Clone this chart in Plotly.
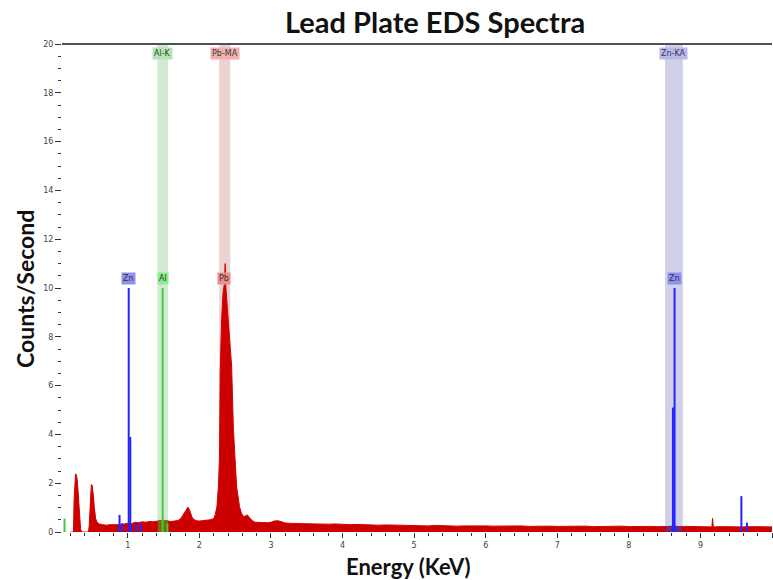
import plotly.graph_objects as go

# EDS spectrum of the lead plate sample: energy (keV) vs counts/second
energy_kev = [
    0.20, 0.24, 0.25, 0.26, 0.27, 0.28, 0.29, 0.30, 0.31, 0.32, 0.33, 0.34, 0.36,
    0.45, 0.46, 0.47, 0.48, 0.49, 0.50, 0.51, 0.52, 0.53, 0.54, 0.55, 0.57, 0.60,
    0.65, 0.70, 0.75, 0.80, 0.85, 0.90, 0.95, 1.00, 1.05, 1.10, 1.15, 1.20, 1.25,
    1.30, 1.35, 1.40, 1.42, 1.44, 1.46, 1.48, 1.50, 1.52, 1.54, 1.56, 1.60, 1.65,
    1.70, 1.74, 1.77, 1.80, 1.82, 1.84, 1.86, 1.88, 1.90, 1.93, 1.96, 2.00, 2.05,
    2.10, 2.15, 2.20, 2.22, 2.245, 2.265, 2.28, 2.29, 2.31, 2.33, 2.35, 2.36, 2.37,
    2.39, 2.41, 2.43, 2.45, 2.475, 2.50, 2.52, 2.56, 2.59, 2.62, 2.65, 2.67, 2.70,
    2.74, 2.78, 2.85, 2.90, 2.95, 3.00, 3.05, 3.10, 3.15, 3.20, 3.30, 3.40, 3.50,
    3.60, 3.70, 3.80, 3.90, 4.00, 4.10, 4.20, 4.30, 4.40, 4.50, 4.60, 4.70, 4.80,
    4.90, 5.00, 5.10, 5.20, 5.30, 5.40, 5.50, 5.60, 5.70, 5.80, 5.90, 6.00, 6.10,
    6.20, 6.30, 6.40, 6.50, 6.60, 6.70, 6.80, 6.90, 7.00, 7.10, 7.20, 7.30, 7.40,
    7.50, 7.60, 7.70, 7.80, 7.90, 8.00, 8.10, 8.20, 8.30, 8.40, 8.50, 8.52, 8.54,
    8.56, 8.58, 8.60, 8.62, 8.64, 8.66, 8.68, 8.70, 8.72, 8.74, 8.76, 8.80, 8.90,
    9.00, 9.10, 9.16, 9.17, 9.18, 9.30, 9.40, 9.50, 9.60, 9.70, 9.80, 9.90, 10.00,
]
counts_per_sec = [
    0.00, 0.00, 1.40, 2.25, 2.38, 2.34, 2.20, 1.85, 1.30, 0.70, 0.30, 0.10, 0.00,
    0.00, 0.25, 1.10, 1.75, 1.95, 1.92, 1.75, 1.45, 1.05, 0.75, 0.55, 0.40, 0.33,
    0.30, 0.28, 0.30, 0.29, 0.31, 0.30, 0.33, 0.36, 0.34, 0.40, 0.38, 0.42, 0.40,
    0.43, 0.42, 0.44, 0.45, 0.48, 0.46, 0.47, 0.45, 0.48, 0.46, 0.44, 0.43, 0.45,
    0.47, 0.55, 0.70, 0.88, 0.98, 1.02, 0.92, 0.72, 0.58, 0.50, 0.46, 0.45, 0.47,
    0.46, 0.50, 0.55, 0.70, 1.04, 1.86, 3.00, 6.50, 8.70, 9.80, 10.20, 11.00, 10.00,
    9.20, 8.20, 7.80, 6.80, 4.20, 2.70, 1.86, 1.04, 0.75, 0.62, 0.68, 0.70, 0.58,
    0.46, 0.40, 0.38, 0.37, 0.38, 0.40, 0.45, 0.46, 0.42, 0.37, 0.35, 0.34, 0.35,
    0.33, 0.34, 0.32, 0.33, 0.31, 0.30, 0.31, 0.29, 0.30, 0.28, 0.29, 0.27, 0.28,
    0.27, 0.26, 0.27, 0.25, 0.27, 0.25, 0.26, 0.24, 0.25, 0.26, 0.24, 0.25, 0.24,
    0.25, 0.23, 0.24, 0.25, 0.23, 0.24, 0.23, 0.24, 0.23, 0.24, 0.22, 0.23, 0.24,
    0.22, 0.23, 0.22, 0.23, 0.24, 0.22, 0.23, 0.22, 0.23, 0.22, 0.23, 0.22, 0.23,
    0.22, 0.24, 0.23, 0.24, 0.23, 0.22, 0.23, 0.22, 0.23, 0.22, 0.22, 0.23, 0.22,
    0.21, 0.22, 0.21, 0.56, 0.21, 0.22, 0.21, 0.22, 0.21, 0.22, 0.21, 0.22, 0.21,
]

# Element identification windows (label, centre keV, half width keV)
band_labels = ["Al-K", "Pb-MA", "Zn-KA"]
band_centers = [1.487, 2.353, 8.630]
band_half_widths = [0.073, 0.077, 0.124]
band_fill = ["#d3e9d3", "#ead3d3", "#d0d0e8"]
band_tag_bg = ["#b4e6b4", "#f0b0b0", "#b8b8ee"]
band_overlay = ["#7a6a10", None, "#6a2a7a"]

# Element marker lines (keV, height in counts/s, colour group)
marker_kev = [0.115, 0.884, 0.918, 1.012, 1.034, 1.117, 1.183, 1.486, 1.553,
              8.616, 8.639, 9.572, 9.650]
marker_height = [0.55, 0.70, 0.36, 10.0, 3.9, 0.36, 0.36, 10.0, 0.36,
                 5.1, 10.0, 1.47, 0.38]
marker_element = ["Al", "Zn", "Zn", "Zn", "Zn", "Zn", "Zn", "Al", "Al",
                  "Zn", "Zn", "Zn", "Zn"]
element_color = {"Zn": "#2424ff", "Al": "#3ccc3c", "Pb": "#e01010"}

# Peak tags placed above the strongest lines
tag_labels = ["Zn", "Al", "Pb", "Zn"]
tag_kev = [1.012, 1.486, 2.342, 8.639]
tag_bg = {"Zn": "#9090f0", "Al": "#8aee8a", "Pb": "#f08c8c"}

fig = go.Figure()

# Main spectrum, filled to the baseline
fig.add_trace(go.Scatter(
    x=energy_kev, y=counts_per_sec, mode="lines",
    line=dict(color="#d40000", width=1),
    fill="tozeroy", fillcolor="#cc0000",
    hoverinfo="skip", showlegend=False,
))

# Spectrum portions that fall inside the Al and Zn windows
for c, hw, col in zip(band_centers, band_half_widths, band_overlay):
    if col is None:
        continue
    seg = [(e, v) for e, v in zip(energy_kev, counts_per_sec) if c - hw <= e <= c + hw]
    fig.add_trace(go.Scatter(
        x=[p[0] for p in seg], y=[p[1] for p in seg], mode="lines",
        line=dict(color=col, width=1), fill="tozeroy", fillcolor=col,
        hoverinfo="skip", showlegend=False,
    ))

# Vertical marker lines grouped by element
for el, col in element_color.items():
    xs, ys = [], []
    for e, h, m in zip(marker_kev, marker_height, marker_element):
        if m == el:
            xs += [e, e, None]
            ys += [0, h, None]
    if xs:
        fig.add_trace(go.Scatter(
            x=xs, y=ys, mode="lines", line=dict(color=col, width=2),
            hoverinfo="skip", showlegend=False,
        ))

shapes = []
annotations = []
for lab, c, hw, fc, bg in zip(band_labels, band_centers, band_half_widths,
                              band_fill, band_tag_bg):
    shapes.append(dict(type="rect", xref="x", yref="y", x0=c - hw, x1=c + hw,
                       y0=0, y1=20, fillcolor=fc, line=dict(width=0), layer="below"))
    annotations.append(dict(x=c, y=19.6, xref="x", yref="y", text=lab,
                            showarrow=False, bgcolor=bg, borderpad=1,
                            font=dict(family="DejaVu Sans", size=8, color="#3a3a3a")))

for lab, e in zip(tag_labels, tag_kev):
    annotations.append(dict(x=e, y=10.4, xref="x", yref="y", text=lab,
                            showarrow=False, bgcolor=tag_bg[lab], borderpad=1,
                            font=dict(family="DejaVu Sans", size=8, color="#333333")))

# Top frame line
shapes.append(dict(type="line", xref="paper", yref="paper", x0=0, x1=1, y0=1, y1=1,
                   line=dict(color="#505050", width=2)))

L, R, T, B, W, H = 62, 1, 44, 48, 773, 580


def px_to_paper(px, py):
    return (px - L) / (W - L - R), 1 - (py - T) / (H - T - B)


for text, px, py, size, angle in [
    ("<b>Lead Plate EDS Spectra</b>", 435, 22, 29, 0),
    ("<b>Energy (KeV)</b>", 408, 566, 22, 0),
    ("<b>Counts/Second</b>", 25, 289, 23, -90),
]:
    ax, ay = px_to_paper(px, py)
    annotations.append(dict(text=text, x=ax, y=ay, xref="paper", yref="paper",
                            xanchor="center", yanchor="middle", textangle=angle,
                            showarrow=False,
                            font=dict(family="Lato", size=size, color="#111111")))

fig.update_layout(
    width=W, height=H,
    margin=dict(l=L, r=R, t=T, b=B),
    paper_bgcolor="white", plot_bgcolor="white",
    shapes=shapes, annotations=annotations,
    xaxis=dict(range=[0.08, 10.0], tickmode="array", tickvals=list(range(1, 11)),
               ticks="outside", ticklen=5, tickwidth=1, tickcolor="#333",
               minor=dict(dtick=0.2, tick0=0, ticks="outside", ticklen=3, tickcolor="#333"),
               showgrid=False, zeroline=False, showline=False,
               tickfont=dict(family="DejaVu Sans", size=8, color="#4a4030")),
    yaxis=dict(range=[0, 20], dtick=2, ticks="outside", ticklen=6, tickwidth=1,
               tickcolor="#333",
               minor=dict(dtick=0.5, ticks="outside", ticklen=3, tickcolor="#333"),
               showgrid=False, zeroline=False, showline=False,
               tickfont=dict(family="DejaVu Sans", size=8, color="#4a4030")),
)

fig.write_html("out.html")
